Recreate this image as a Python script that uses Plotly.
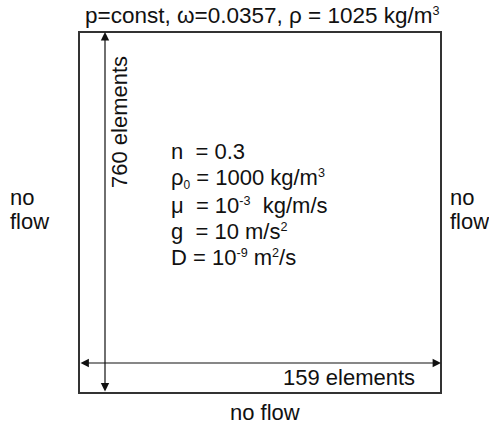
import plotly.graph_objects as go

W, H = 489, 425

def sup(s):
    return f'<span style="font-size:18px"><sup>{s}</sup></span>'

def sub(s):
    return f'<span style="font-size:17px"><sub>{s}</sub></span>'

# ---- content ----
title_text = "p=const, ω=0.0357, ρ = 1025 kg/m" + sup("3")
n_elements_x = 159
n_elements_y = 760
side_label_lines = ["no", "flow"]
bottom_label = "no flow"
param_lines = [
    "n\u00a0\u00a0= 0.3",
    "ρ" + sub("0") + " = 1000 kg/m" + sup("3"),
    "μ\u00a0\u00a0= 10" + sup("-3") + "\u00a0 kg/m/s",
    "g\u00a0\u00a0= 10 m/s" + sup("2"),
    "D = 10" + sup("-9") + " m" + sup("2") + "/s",
]

# ---- layout geometry (pixel-like coordinates) ----
bx0, bx1, by0, by1 = 79, 441, 32, 393
varrow_x = 105
harrow_y = 363
param_x = 169
param_y = [151, 178, 205, 231, 257]
side_x = [8, 448]
side_y = [197, 221]
FONT = "Liberation Sans, Arial, sans-serif"
FS = 22

fig = go.Figure()
fig.add_trace(go.Scatter(x=[0, W], y=[0, H], mode="markers",
                         marker=dict(opacity=0), hoverinfo="skip", showlegend=False))

fig.add_shape(type="rect", x0=bx0, x1=bx1, y0=by0, y1=by1, xref="x", yref="y",
              line=dict(color="#333333", width=2), fillcolor="rgba(0,0,0,0)")

ann = []
# arrows
ann.append(dict(x=varrow_x, y=by0, ax=varrow_x, ay=by1, xref="x", yref="y",
                axref="x", ayref="y", text="", showarrow=True, arrowhead=2,
                arrowside="end+start", arrowsize=1.4, arrowwidth=1.2, arrowcolor="#111111"))
ann.append(dict(x=bx1, y=harrow_y, ax=bx0, ay=harrow_y, xref="x", yref="y",
                axref="x", ayref="y", text="", showarrow=True, arrowhead=2,
                arrowside="end+start", arrowsize=1.4, arrowwidth=1.2, arrowcolor="#111111"))

# texts
ann.append(dict(x=262, y=15, text=title_text, showarrow=False, xanchor="center", yanchor="middle",
                font=dict(family=FONT, size=22.5, color="#111111")))
ann.append(dict(x=119, y=122, text=f"{n_elements_y} elements", textangle=-90,
                showarrow=False, xanchor="center", yanchor="middle"))
ann.append(dict(x=349, y=377, text=f"{n_elements_x} elements", showarrow=False,
                xanchor="center", yanchor="middle"))
for sx in side_x:
    for txt, sy in zip(side_label_lines, side_y):
        ann.append(dict(x=sx, y=sy, text=txt, showarrow=False,
                        xanchor="left", yanchor="middle", align="left"))
ann.append(dict(x=265, y=412, text=bottom_label, showarrow=False,
                xanchor="center", yanchor="middle"))
for line, yy in zip(param_lines, param_y):
    ann.append(dict(x=param_x, y=yy, text=line, showarrow=False,
                    xanchor="left", yanchor="middle", align="left"))

for a in ann:
    a.setdefault("font", dict(family=FONT, size=FS, color="#111111"))

fig.update_layout(
    width=W, height=H, margin=dict(l=0, r=0, t=0, b=0),
    paper_bgcolor="white", plot_bgcolor="white",
    xaxis=dict(range=[0, W], visible=False, fixedrange=True),
    yaxis=dict(range=[H, 0], visible=False, fixedrange=True),
    annotations=ann, showlegend=False,
)

fig.write_html("out.html")
